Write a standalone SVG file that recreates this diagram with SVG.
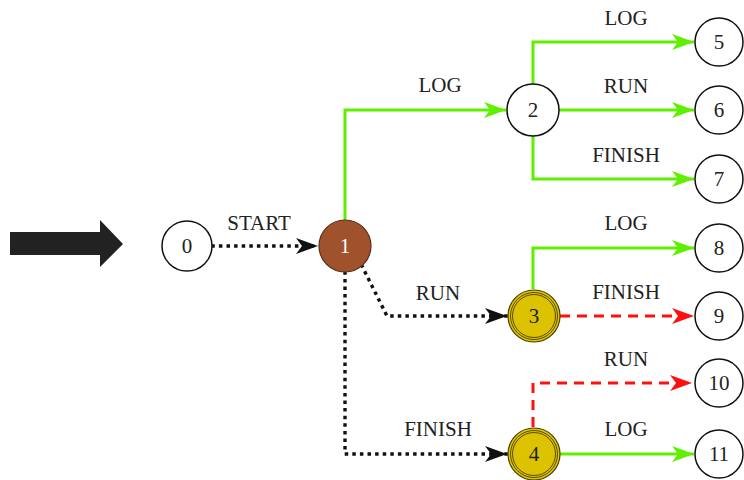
<svg xmlns="http://www.w3.org/2000/svg" width="744" height="480" viewBox="0 0 744 480">
  <style>
    .state { fill: #ffffff; stroke: #111; stroke-width: 1.5; }
    .init { fill: #a0522d; stroke: #5a2e16; stroke-width: 1.2; }
    .acc { fill: #dcc200; stroke: #4a3f00; stroke-width: 1.2; }
    .ring { fill: none; stroke: #4a3f00; stroke-width: 0.9; }
    .num { dominant-baseline: central; }
    .ok { fill: none; stroke: #5ef000; stroke-width: 3; }
    .dot { fill: none; stroke: #111; stroke-width: 3.4; stroke-dasharray: 0.1 7.5; stroke-linecap: square; }
    .bad { fill: none; stroke: #ff1010; stroke-width: 3; stroke-dasharray: 10 7; }
  </style>
  <defs>
    <marker id="ahG" viewBox="0 0 22 16" refX="22" refY="8" markerWidth="22" markerHeight="16" markerUnits="userSpaceOnUse" orient="auto">
      <path d="M0,0 L22,8 L0,16 L6,8 Z" fill="#5ef000"/>
    </marker>
    <marker id="ahK" viewBox="0 0 22 16" refX="22" refY="8" markerWidth="22" markerHeight="16" markerUnits="userSpaceOnUse" orient="auto">
      <path d="M0,0 L22,8 L0,16 L6,8 Z" fill="#111"/>
    </marker>
    <marker id="ahR" viewBox="0 0 22 16" refX="22" refY="8" markerWidth="22" markerHeight="16" markerUnits="userSpaceOnUse" orient="auto">
      <path d="M0,0 L22,8 L0,16 L6,8 Z" fill="#ff1010"/>
    </marker>
  </defs>

  <rect x="0" y="0" width="744" height="480" fill="#ffffff"/>

  <!-- entry arrow -->
  <path d="M10,232 L100,232 L100,220 L123,244 L100,267 L100,255 L10,255 Z" fill="#222"/>

  <g font-family="Liberation Serif, DejaVu Serif, serif" font-size="21" fill="#222" text-anchor="middle">
  <g id="connectors">
    <path class="dot" d="M213,246 L318,246" marker-end="url(#ahK)"/>
    <path class="ok" d="M345,220 L345,110 L506,110" marker-end="url(#ahG)"/>
    <path class="dot" d="M362,266 L387,316 L507,316" marker-end="url(#ahK)"/>
    <path class="dot" d="M345,273 L345,454 L507,454" marker-end="url(#ahK)"/>
    <path class="ok" d="M533,84 L533,42 L694,42" marker-end="url(#ahG)"/>
    <path class="ok" d="M559,110 L694,110" marker-end="url(#ahG)"/>
    <path class="ok" d="M533,136 L533,179 L694,179" marker-end="url(#ahG)"/>
    <path class="ok" d="M533,289 L533,248 L694,248" marker-end="url(#ahG)"/>
    <path class="bad" d="M560,316 L694,316" marker-end="url(#ahR)"/>
    <path class="bad" d="M533,427 L533,383 L692,383" marker-end="url(#ahR)"/>
    <path class="ok" d="M560,454 L694,454" marker-end="url(#ahG)"/>
    <text x="259" y="230">START</text>
    <text x="440" y="92">LOG</text>
    <text x="438" y="300">RUN</text>
    <text x="438" y="436">FINISH</text>
    <text x="626" y="25">LOG</text>
    <text x="626" y="93">RUN</text>
    <text x="626" y="162">FINISH</text>
    <text x="626" y="230">LOG</text>
    <text x="626" y="299">FINISH</text>
    <text x="626" y="366">RUN</text>
    <text x="626" y="436">LOG</text>
  </g>

  <g id="n0"><circle class="state" cx="187" cy="246" r="25"/><text class="num" x="187" y="246">0</text></g>
  <g id="n1"><circle class="init" cx="345" cy="246" r="26"/><text class="num" x="345" y="246" fill="#fff">1</text></g>
  <g id="n2"><circle class="state" cx="533" cy="110" r="26"/><text class="num" x="533" y="110">2</text></g>
  <g id="n3"><circle class="acc" cx="534" cy="316" r="26"/><circle class="ring" cx="534" cy="316" r="23.5"/><circle class="ring" cx="534" cy="316" r="21.5"/><text class="num" x="534" y="316">3</text></g>
  <g id="n4"><circle class="acc" cx="534" cy="454" r="26"/><circle class="ring" cx="534" cy="454" r="23.5"/><circle class="ring" cx="534" cy="454" r="21.5"/><text class="num" x="534" y="454">4</text></g>
  <g id="n5"><circle class="state" cx="719" cy="42" r="24"/><text class="num" x="719" y="42">5</text></g>
  <g id="n6"><circle class="state" cx="719" cy="110" r="24"/><text class="num" x="719" y="110">6</text></g>
  <g id="n7"><circle class="state" cx="719" cy="179" r="24"/><text class="num" x="719" y="179">7</text></g>
  <g id="n8"><circle class="state" cx="719" cy="248" r="24"/><text class="num" x="719" y="248">8</text></g>
  <g id="n9"><circle class="state" cx="719" cy="316" r="24"/><text class="num" x="719" y="316">9</text></g>
  <g id="n10"><circle class="state" cx="719" cy="383" r="24"/><text class="num" x="719" y="383">10</text></g>
  <g id="n11"><circle class="state" cx="719" cy="454" r="24"/><text class="num" x="719" y="454">11</text></g>
  </g>
</svg>
